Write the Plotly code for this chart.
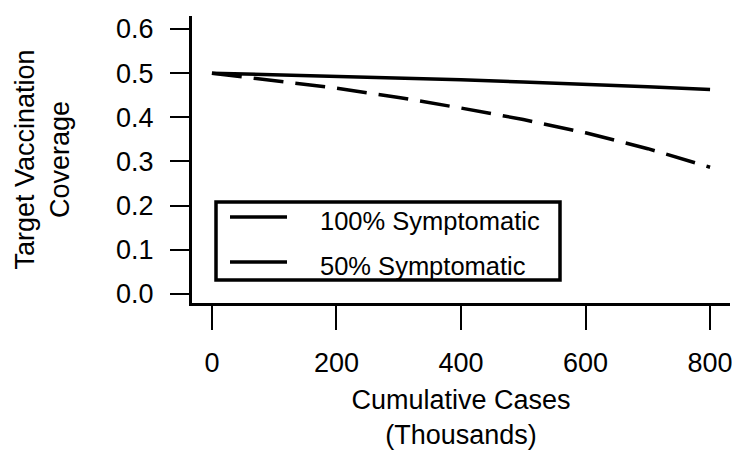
import plotly.graph_objects as go

cases_thousands = [0, 100, 200, 300, 400, 500, 600, 700, 800]
coverage_100 = [0.500, 0.4965, 0.493, 0.489, 0.485, 0.480, 0.475, 0.469, 0.463]
coverage_50 = [0.500, 0.484, 0.466, 0.445, 0.421, 0.395, 0.365, 0.329, 0.287]
series_names = ["100% Symptomatic", "50% Symptomatic"]
x_ticks = [0, 200, 400, 600, 800]
y_ticks = [0.0, 0.1, 0.2, 0.3, 0.4, 0.5, 0.6]
y_tick_text = ["0.0", "0.1", "0.2", "0.3", "0.4", "0.5", "0.6"]

FONT = "Liberation Sans, Arial, sans-serif"
# page body has an 8px margin; figure sized to fit inside the 740x458 window
OFF = 8
W, H = 740 - 2 * OFF, 458 - 2 * OFF
# plot area in window pixels: x 192..730, y 16..303
PL, PR, PT, PB = 192, 730, 16, 303
ML, MT = PL - OFF, PT - OFF
MR = W - (PR - OFF)
MB = H - (PB - OFF)
PW, PH = PR - PL, PB - PT

def px_x(p):
    return (p - PL) / PW

def px_y(p):
    return (PB - p) / PH

fig = go.Figure()
fig.add_trace(go.Scatter(x=cases_thousands, y=coverage_100, mode="lines",
                         name=series_names[0], showlegend=False,
                         line=dict(color="black", width=3.5)))
fig.add_trace(go.Scatter(x=cases_thousands, y=coverage_50, mode="lines",
                         name=series_names[1], showlegend=False,
                         line=dict(color="black", width=3.5, dash="30px,12px")))

# legend box drawn like R's legend (both samples solid)
shapes = [dict(type="rect", xref="paper", yref="paper",
               x0=px_x(216), x1=px_x(560), y0=px_y(280), y1=px_y(202),
               line=dict(color="black", width=3.5), fillcolor="white", layer="above")]
annotations = []
for name, py in zip(series_names, [217, 262]):
    shapes.append(dict(type="line", xref="paper", yref="paper",
                       x0=px_x(230), x1=px_x(287), y0=px_y(py), y1=px_y(py),
                       line=dict(color="black", width=3.5), layer="above"))
    annotations.append(dict(xref="paper", yref="paper", x=px_x(318), y=px_y(py + 4),
                            text=name, showarrow=False, xanchor="left", yanchor="middle",
                            font=dict(family=FONT, size=25.5, color="black")))

fig.update_layout(
    width=W, height=H,
    margin=dict(l=ML, r=MR, t=MT, b=MB, pad=0),
    paper_bgcolor="white", plot_bgcolor="white",
    font=dict(family=FONT, color="black"),
    shapes=shapes, annotations=annotations,
    showlegend=False,
)
fig.update_xaxes(
    range=[-32, 832], tickvals=x_ticks, ticktext=[str(v) for v in x_ticks],
    showgrid=False, zeroline=False, showline=True, linecolor="black", linewidth=3,
    ticks="outside", ticklen=24, tickwidth=2, tickcolor="black",
    tickfont=dict(family=FONT, size=27, color="black"), ticklabelstandoff=10,
    ticklabeloverflow="allow",
    title=dict(text="Cumulative Cases<br>(Thousands)", font=dict(family=FONT, size=27, color="black"),
               standoff=24),
    automargin=False,
)
fig.update_yaxes(
    range=[-0.0204, 0.6294], tickvals=y_ticks, ticktext=y_tick_text,
    showgrid=False, zeroline=False, showline=True, linecolor="black", linewidth=3,
    ticks="outside", ticklen=19, tickwidth=2, tickcolor="black",
    tickfont=dict(family=FONT, size=27, color="black"), ticklabelstandoff=11,
    ticklabeloverflow="allow",
    title=dict(text="Target Vaccination<br>Coverage", font=dict(family=FONT, size=27, color="black"),
               standoff=39),
    automargin=False,
)

fig.write_html("out.html")
